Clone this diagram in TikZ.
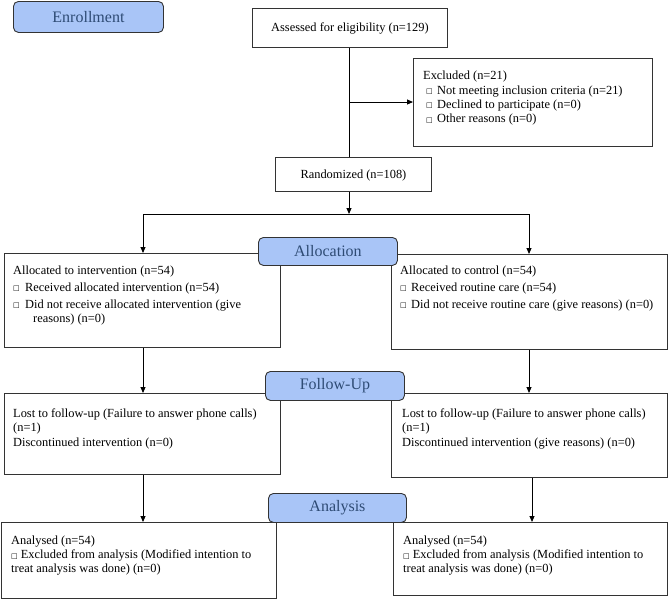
\documentclass[tikz,border=0pt]{standalone}
\usepackage{fontspec}
\setmainfont{Liberation Serif}
\newfontfamily\symfont{DejaVu Sans}
\usetikzlibrary{arrows.meta,calc}
\definecolor{lblfill}{HTML}{A9C5F7}
\definecolor{lbltext}{HTML}{2E4B74}
\definecolor{edge}{HTML}{333333}
\newcommand{\bx}{{\symfont\fontsize{7}{7}\selectfont\raisebox{0.5pt}{□}}}
\begin{document}
\begin{tikzpicture}[x=1pt,y=-1pt,
  box/.style={draw=edge,line width=0.9pt,rectangle,inner sep=0pt,anchor=north west},
  lbl/.style={draw=edge,line width=0.9pt,rounded corners=5pt,fill=lblfill,text=lbltext,
     font=\fontsize{16}{18}\selectfont,inner sep=0pt,anchor=north west},
  txt/.style={anchor=north west,inner sep=0pt,align=left,font=\fontsize{12.4}{14.3}\selectfont},
  ctxt/.style={inner sep=0pt,font=\fontsize{12.4}{14.3}\selectfont},
  conn/.style={draw=black,line width=0.9pt},
  arr/.style={conn,-{Triangle[length=6pt,width=5pt]}}]
\useasboundingbox (0,0) rectangle (669,598);

% Enrollment label
\node[lbl,minimum width=150pt,minimum height=31pt] (enroll) at (13,1) {};
\node[font=\fontsize{16}{18}\selectfont,text=lbltext,inner sep=0pt] (enrollt) at (enroll.center) {Enrollment};

% Assessed
\node[box,minimum width=195pt,minimum height=39pt] (assess) at (252,8) {};
\node[ctxt] (assesst) at ([yshift=-1pt]assess.center) {Assessed for eligibility (n=129)};

% Excluded
\node[box,minimum width=239pt,minimum height=88pt] (excl) at (413,58) {};
\node[txt] (exclt) at (423,71) {Excluded (n=21)\\
\hspace*{3pt}\makebox[11pt][l]{\bx}Not meeting inclusion criteria (n=21)\\
\hspace*{3pt}\makebox[11pt][l]{\bx}Declined to participate (n=0)\\
\hspace*{3pt}\makebox[11pt][l]{\bx}Other reasons (n=0)};

% Randomized
\node[box,minimum width=156pt,minimum height=34pt] (rand) at (275,157) {};
\node[ctxt] (randt) at ([yshift=-1pt]rand.center) {Randomized (n=108)};

% Allocation boxes
\node[box,minimum width=276pt,minimum height=94pt] (allocL) at (4,253) {};
\node[txt] (allocLt) at (13,266) {Allocated to intervention (n=54)\\[2.3pt]
\makebox[12pt][l]{\bx}Received allocated intervention (n=54)\\[2.3pt]
\makebox[12pt][l]{\bx}Did not receive allocated intervention (give\\
\hspace*{20pt}reasons) (n=0)};

\node[box,minimum width=276pt,minimum height=95pt] (allocR) at (391,254) {};
\node[txt] (allocRt) at (400,266) {Allocated to control (n=54)\\[2.3pt]
\makebox[11pt][l]{\bx}Received routine care (n=54)\\[2.3pt]
\makebox[11pt][l]{\bx}Did not receive routine care (give reasons) (n=0)};

% Follow-up boxes
\node[box,minimum width=276pt,minimum height=81pt] (folL) at (4,393) {};
\node[txt] (folLt) at (13,408.5) {Lost to follow-up (Failure to answer phone calls)\\
(n=1)\\
Discontinued intervention (n=0)};

\node[box,minimum width=276pt,minimum height=84pt] (folR) at (391,393) {};
\node[txt] (folRt) at (402,408.5) {Lost to follow-up (Failure to answer phone calls)\\
(n=1)\\
Discontinued intervention (give reasons) (n=0)};

% Analysis boxes
\node[box,minimum width=275.5pt,minimum height=75.5pt] (anaL) at (0.5,522) {};
\node[txt] (anaLt) at (11,535.5) {Analysed (n=54)\\
\bx\ Excluded from analysis (Modified intention to\\
treat analysis was done) (n=0)};

\node[box,minimum width=274pt,minimum height=73pt] (anaR) at (393,522) {};
\node[txt] (anaRt) at (403,535.5) {Analysed (n=54)\\
\bx\ Excluded from analysis (Modified intention to\\
treat analysis was done) (n=0)};

% Connectors
\coordinate (exclbranch) at (349,102);
\coordinate (split) at (349,214);
\coordinate (splitL) at (143,214);
\coordinate (splitR) at (529,214);
\draw[conn] (assess.south -| split) -- (rand.north -| split);
\draw[arr] (exclbranch) -- (excl.west |- exclbranch);
\draw[arr] (rand.south -| split) -- (split);
\draw[conn] (splitL) -- (splitR);
\draw[arr] (splitL) -- (splitL |- allocL.north);
\draw[arr] (splitR) -- (splitR |- allocR.north);
\draw[arr] (allocL.south -| splitL) -- (folL.north -| splitL);
\draw[arr] (allocR.south -| splitR) -- (folR.north -| splitR);
\coordinate (colR) at (532,0);
\draw[arr] (folL.south -| splitL) -- (anaL.north -| splitL);
\draw[arr] (folR.south -| colR) -- (anaR.north -| colR);

% Stage labels (drawn on top)
\node[lbl,minimum width=139pt,minimum height=28pt] (alloclbl) at (258,237) {};
\node[font=\fontsize{16}{18}\selectfont,text=lbltext,inner sep=0pt] (alloclblt) at (alloclbl.center) {Allocation};
\node[lbl,minimum width=139pt,minimum height=29pt] (follbl) at (265,371) {};
\node[font=\fontsize{16}{18}\selectfont,text=lbltext,inner sep=0pt] (follblt) at (follbl.center) {Follow-Up};
\node[lbl,minimum width=138pt,minimum height=29pt] (analbl) at (268,493) {};
\node[font=\fontsize{16}{18}\selectfont,text=lbltext,inner sep=0pt] (analblt) at (analbl.center) {Analysis};
\end{tikzpicture}
\end{document}
